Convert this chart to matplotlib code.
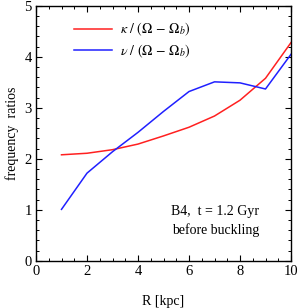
import numpy as np
import matplotlib
matplotlib.use("Agg")
import matplotlib.pyplot as plt
from matplotlib.ticker import MultipleLocator

plt.rcParams["font.family"] = ["Liberation Serif", "DejaVu Serif"]
plt.rcParams["mathtext.fontset"] = "stix"

R = [1, 2, 3, 4, 5, 6, 7, 8, 9, 10]
kappa_ratio = [2.08, 2.11, 2.18, 2.29, 2.45, 2.62, 2.84, 3.15, 3.58, 4.28]
nu_ratio = [1.01, 1.72, 2.14, 2.52, 2.93, 3.32, 3.51, 3.49, 3.37, 4.05]

fig = plt.figure(figsize=(3.0, 3.08), dpi=100)
ax = fig.add_axes([0.12, 0.153, 0.85, 0.828])

ax.plot(R, kappa_ratio, color="#ff2020", linewidth=1.1, label=r"$\kappa\ /\ (\Omega\,-\,\Omega_b)$")
ax.plot(R, nu_ratio, color="#2020ff", linewidth=1.1, label=r"$\nu\ /\ (\Omega\,-\,\Omega_b)$")

ax.set_xlim(0, 10)
ax.set_ylim(0, 5)
ax.xaxis.set_major_locator(MultipleLocator(2))
ax.xaxis.set_minor_locator(MultipleLocator(0.5))
ax.yaxis.set_major_locator(MultipleLocator(1))
ax.yaxis.set_minor_locator(MultipleLocator(0.2))
ax.tick_params(which="both", direction="in", top=True, right=True, labelsize=10.5, pad=3)
ax.tick_params(which="major", length=4, width=0.8)
ax.tick_params(which="minor", length=2.2, width=0.7)
for s in ax.spines.values():
    s.set_linewidth(1.0)

ax.set_xlabel("R [kpc]", fontsize=10, labelpad=12)
ax.set_ylabel("frequency  ratios", fontsize=10, labelpad=4)

ax.legend(loc="upper left", bbox_to_anchor=(0.1, 0.99), frameon=False, fontsize=10,
          handlelength=2.7, handletextpad=0.6, labelspacing=0.3)

ax.text(0.875, 0.155, "B4,  t = 1.2 Gyr\nbefore buckling", transform=ax.transAxes,
        ha="right", va="center", fontsize=10, linespacing=1.5)

plt.savefig("out.png", dpi=100)
